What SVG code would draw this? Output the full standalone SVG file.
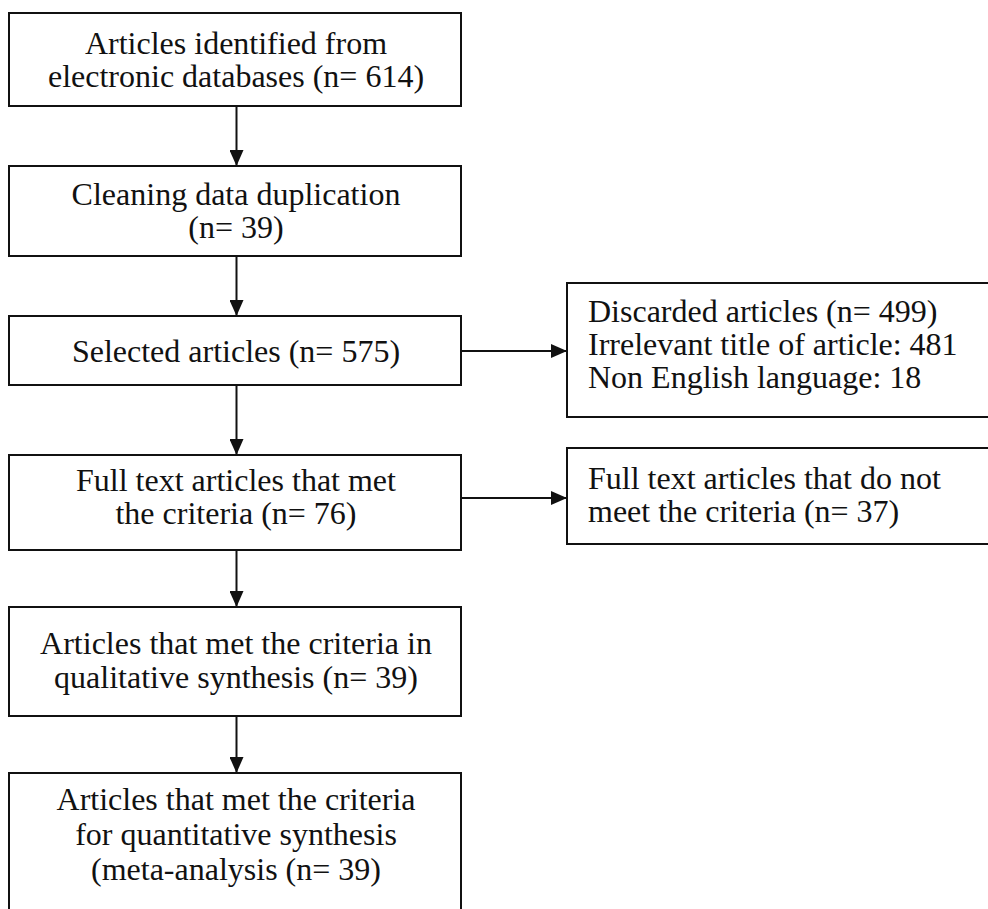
<svg xmlns="http://www.w3.org/2000/svg" width="988" height="909" viewBox="0 0 988 909">
<style>
.box{fill:#fff;stroke:#111;stroke-width:2}
.t{font-family:"Liberation Serif","Times New Roman",serif;font-size:32px;fill:#111}
.c{text-anchor:middle}
.conn line{stroke:#111;stroke-width:2}
</style>
<defs>
<marker id="ah" markerWidth="16" markerHeight="14" refX="16" refY="7" orient="auto" markerUnits="userSpaceOnUse">
<path d="M0,0 L16,7 L0,14 Z" fill="#111"/>
</marker>
</defs>
<rect width="988" height="909" fill="#fff"/>
<g class="conn">
<line x1="236.5" y1="106" x2="236.5" y2="166" marker-end="url(#ah)"/>
<line x1="236.5" y1="256" x2="236.5" y2="316" marker-end="url(#ah)"/>
<line x1="236.5" y1="385" x2="236.5" y2="455" marker-end="url(#ah)"/>
<line x1="236.5" y1="550" x2="236.5" y2="607" marker-end="url(#ah)"/>
<line x1="236.5" y1="716" x2="236.5" y2="773" marker-end="url(#ah)"/>
<line x1="461" y1="351" x2="567" y2="351" marker-end="url(#ah)"/>
<line x1="461" y1="498" x2="567" y2="498" marker-end="url(#ah)"/>
</g>
<g id="n1"><rect class="box" x="9" y="13" width="452" height="93"/>
<text class="t c" x="236" y="54">Articles identified from</text>
<text class="t c" x="236" y="87">electronic databases (n= 614)</text></g>
<g id="n2"><rect class="box" x="9" y="166" width="452" height="90"/>
<text class="t c" x="236" y="205">Cleaning data duplication</text>
<text class="t c" x="236" y="238">(n= 39)</text></g>
<g id="n3"><rect class="box" x="9" y="316" width="452" height="69"/>
<text class="t c" x="236" y="362">Selected articles (n= 575)</text></g>
<g id="n4"><rect class="box" x="9" y="455" width="452" height="95"/>
<text class="t c" x="236" y="491">Full text articles that met</text>
<text class="t c" x="236" y="524">the criteria (n= 76)</text></g>
<g id="n5"><rect class="box" x="9" y="607" width="452" height="109"/>
<text class="t c" x="236" y="654">Articles that met the criteria in</text>
<text class="t c" x="236" y="688">qualitative synthesis (n= 39)</text></g>
<g id="n6"><rect class="box" x="9" y="773" width="452" height="150"/>
<text class="t c" x="236" y="810">Articles that met the criteria</text>
<text class="t c" x="236" y="845">for quantitative synthesis</text>
<text class="t c" x="236" y="880">(meta-analysis (n= 39)</text></g>
<g id="n7"><rect class="box" x="567" y="283" width="440" height="134"/>
<text class="t" x="588" y="322">Discarded articles (n= 499)</text>
<text class="t" x="588" y="355">Irrelevant title of article: 481</text>
<text class="t" x="588" y="388">Non English language: 18</text></g>
<g id="n8"><rect class="box" x="567" y="448" width="440" height="96"/>
<text class="t" x="588" y="489">Full text articles that do not</text>
<text class="t" x="588" y="522">meet the criteria (n= 37)</text></g>
</svg>
